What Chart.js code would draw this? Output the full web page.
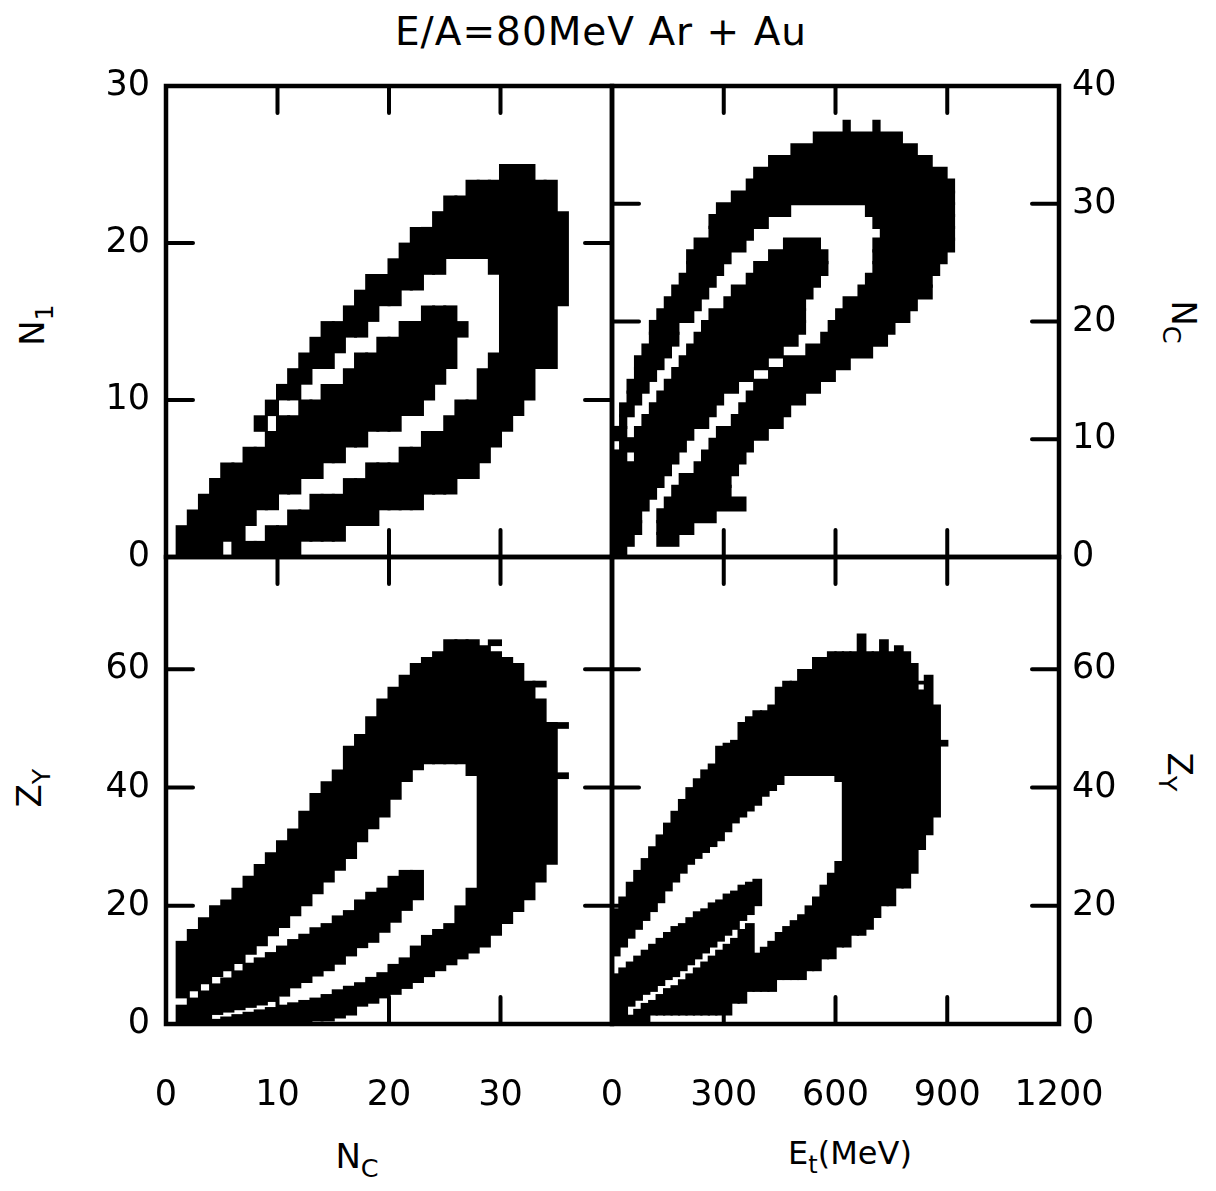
<!DOCTYPE html>
<html>
<head>
<meta charset="utf-8">
<script src="https://cdn.jsdelivr.net/npm/chart.js@4.4.1/dist/chart.umd.min.js"></script>
<style>
  body { margin: 0; background: #fff; width: 1216px; height: 1191px; position: relative; overflow: hidden; font-family: 'DejaVu Sans', sans-serif; }
  canvas { position: absolute; }
  .lbl { position: absolute; color: #000; white-space: nowrap; line-height: 1; transform: translate(-50%, -50%); }
  .lbl sub { font-size: 0.75em; vertical-align: -0.35em; }
  .rotl { transform: translate(-50%, -50%) rotate(-90deg); }
  .rotr { transform: translate(-50%, -50%) rotate(90deg); }
</style>
</head>
<body>
<div class="lbl" style="left:601px;top:31px;font-size:39px;letter-spacing:1px">E/A=80MeV Ar + Au</div>
<div class="lbl rotl" style="left:36px;top:325px;font-size:34px">N<sub>1</sub></div>
<div class="lbl rotl" style="left:33px;top:788px;font-size:34px">Z<sub>Y</sub></div>
<div class="lbl rotr" style="left:1180px;top:322px;font-size:34px">N<sub>C</sub></div>
<div class="lbl rotr" style="left:1176px;top:772px;font-size:34px">Z<sub>Y</sub></div>
<div class="lbl" style="left:357px;top:1160px;font-size:34px">N<sub>C</sub></div>
<div class="lbl" style="left:850px;top:1157px;font-size:32px">E<sub>t</sub>(MeV)</div>

<canvas id="tl" width="566" height="551" style="left:56px;top:46px"></canvas>
<canvas id="tr" width="537" height="551" style="left:602px;top:46px"></canvas>
<canvas id="bl" width="566" height="607" style="left:56px;top:517px"></canvas>
<canvas id="br" width="547" height="607" style="left:592px;top:517px"></canvas>

<script>
// Filled cells. Each entry is one bin; the list holds
// [lo, hi] pairs of the black runs inside that bin.

// top left: N1 runs per Nc column (bin width 1)
const tlNc = [1, 2, 3, 4, 5, 6, 7, 8, 9, 10, 11, 12, 13, 14, 15, 16, 17, 18,
  19, 20, 21, 22, 23, 24, 25, 26, 27, 28, 29, 30, 31, 32, 33, 34, 35];
const tlRuns = [
  [0, 2], [0, 3], [0, 4], [0, 5], [1, 6], [0, 6],
  [0, 1, 2, 7], [0, 1, 3, 7, 8, 9], [0, 2, 3, 8, 9, 10], [0, 2, 4, 9, 10, 11],
  [0, 3, 4, 9, 10, 12], [1, 3, 5, 10, 11, 13], [1, 4, 5, 10, 12, 14], [1, 4, 6, 11, 12, 15],
  [1, 4, 6, 11, 13, 15], [2, 5, 7, 12, 14, 16], [2, 5, 7, 13, 14, 17], [2, 6, 8, 13, 15, 18],
  [3, 6, 8, 14, 16, 18], [3, 6, 8, 14, 16, 19], [3, 7, 9, 15, 17, 20], [3, 7, 9, 15, 17, 21],
  [4, 8, 10, 16, 18, 21], [4, 8, 11, 16, 18, 22], [4, 9, 12, 16, 19, 23], [5, 10, 14, 15, 19, 23],
  [5, 10, 19, 24], [6, 12, 19, 24], [7, 13, 18, 24], [8, 25], [9, 25], [10, 25],
  [12, 24], [12, 24], [16, 22]
];

// top right: E_t runs (MeV) per Nc row (bin height 1)
const trNc = [0, 1, 2, 3, 4, 5, 6, 7, 8, 9, 10, 11, 12, 13, 14, 15, 16, 17, 18,
  19, 20, 21, 22, 23, 24, 25, 26, 27, 28, 29, 30, 31, 32, 33, 34, 35, 36];
const trRuns = [
  [0, 40], [0, 60, 120, 180], [0, 80, 120, 220], [0, 80, 120, 280], [0, 100, 140, 360],
  [0, 120, 160, 320], [0, 140, 180, 320], [0, 160, 220, 340], [0, 40, 60, 180, 240, 360],
  [20, 200, 260, 380], [0, 40, 60, 220, 280, 420], [20, 40, 80, 260, 320, 460],
  [20, 60, 100, 280, 340, 480], [40, 80, 120, 300, 360, 520], [40, 100, 140, 340, 380, 560],
  [60, 120, 160, 380, 420, 600], [60, 140, 180, 420, 460, 640], [80, 160, 200, 460, 520, 700],
  [100, 180, 220, 500, 560, 740], [100, 180, 240, 520, 580, 760], [120, 220, 260, 520, 600, 800],
  [140, 240, 300, 520, 620, 820], [160, 260, 320, 540, 660, 860], [180, 280, 360, 560, 680, 860],
  [200, 300, 380, 580, 700, 880], [200, 320, 420, 580, 700, 900], [220, 360, 460, 560, 700, 920],
  [260, 380, 720, 920], [260, 420, 700, 920], [280, 480, 680, 920], [320, 920], [360, 920],
  [380, 900], [420, 860], [480, 820], [540, 780], [620, 640, 700, 720]
];

// bottom left: Z_Y runs per Nc column (bin width 1)
const blNc = [1, 2, 3, 4, 5, 6, 7, 8, 9, 10, 11, 12, 13, 14, 15, 16, 17, 18,
  19, 20, 21, 22, 23, 24, 25, 26, 27, 28, 29, 30, 31, 32, 33, 34, 35];
const blRuns = [
  [0, 3.2, 4.4, 14], [0, 4.4, 5.6, 16], [0, 5.6, 6.8, 18], [0, 0.8, 1.6, 6.8, 8, 20],
  [0, 1.2, 2, 7.8, 9, 21], [0, 1.6, 2.4, 9, 10.2, 23], [0, 2, 2.8, 10.3, 11.8, 25],
  [0, 2.4, 3.2, 11.2, 13.2, 27], [0, 2.8, 3.8, 12.1, 14.9, 29], [0, 3.2, 4.7, 13.2, 16.3, 31],
  [0, 3.6, 6.1, 14.3, 18.3, 33], [0, 4, 7, 15.2, 20, 36], [0.5, 4.4, 8.1, 16.3, 22, 39],
  [0.5, 5, 9, 17, 24, 41], [1, 5.8, 10.1, 18.3, 26, 43], [1.5, 6.4, 11.5, 19.2, 28, 47],
  [3, 7, 12.9, 21, 30.8, 49], [3.5, 7.9, 13.8, 22.3, 33, 52], [4.4, 8.7, 15.5, 23, 35, 55],
  [5, 10.1, 17.2, 25, 38, 57], [6, 11.2, 19.2, 26, 41, 59], [7, 13.2, 21, 26, 43, 61],
  [8, 15, 44, 62], [9, 16, 44, 63], [10, 17, 44, 65], [11, 20, 44, 65], [12, 23, 42, 65],
  [13, 64], [15, 63, 64, 65], [17, 62], [19, 61], [21, 58], [24, 55, 57, 58], [27, 51],
  [41.5, 42.5, 50, 51]
];

// bottom right: Z_Y runs per E_t column (bin width 20 MeV)
const brEt = [0, 20, 40, 60, 80, 100, 120, 140, 160, 180, 200, 220, 240, 260, 280,
  300, 320, 340, 360, 380, 400, 420, 440, 460, 480, 500, 520, 540, 560, 580, 600,
  620, 640, 660, 680, 700, 720, 740, 760, 780, 800, 820, 840, 860, 880];
const brRuns = [
  [0, 8.5, 11.5, 19.5], [0, 9.5, 13, 21.5], [0, 1.5, 3, 10.5, 14.5, 24], [0, 2.5, 4, 11.5, 16, 26],
  [0, 3.5, 5, 12.5, 17.5, 28], [1.5, 4, 5.5, 13.5, 19, 30], [1.5, 5, 6.5, 14.5, 20.5, 32],
  [1.5, 6, 7.5, 15.5, 22.5, 34], [1.5, 6.5, 8, 16.5, 24, 36], [1.5, 7.5, 9, 17, 25.5, 38],
  [1.5, 8.5, 10, 18, 27, 40], [1.5, 9.5, 11, 19, 28, 41.5], [1.5, 10.5, 12, 19.5, 29, 43],
  [1.5, 11.5, 13, 20.5, 30, 44], [1.5, 12.5, 14, 21, 31, 47], [1.5, 13.5, 15, 22, 32.5, 47.5],
  [3.5, 14.5, 16, 22.5, 34, 48], [3.5, 16, 17.5, 23.5, 35, 51], [5.5, 17, 18.5, 24, 36, 52],
  [5.5, 12, 20, 24.5, 37, 53], [5.5, 13, 38.5, 53], [5.5, 14, 39.5, 54], [7.5, 15.5, 40.5, 57],
  [7.5, 16.5, 42, 58], [7.5, 17.5, 42, 58], [7.5, 18.5, 42, 60], [9, 20, 42, 60], [9, 21.5, 42, 62],
  [11, 23.5, 42, 62], [11, 25.5, 42, 63], [13, 27.5, 41, 63], [13, 63], [15, 63], [15, 66],
  [16, 63], [18, 63], [20, 65], [20, 63], [23, 64], [23, 63], [25.5, 61],
  [29.5, 56.5, 57.5, 58], [32, 59], [35, 54], [47, 48]
];

// ticks (inner marks) and tick labels
const tlXTicks = [10, 20, 30], tlYTicks = [10, 20];
const trXTicks = [300, 600, 900], trYTicks = [10, 20, 30];
const blXTicks = [10, 20, 30], blYTicks = [20, 40, 60];
const brXTicks = [300, 600, 900], brYTicks = [20, 40, 60];
const tlYLabels = [0, 10, 20, 30];
const trYLabels = [0, 10, 20, 30, 40];
const blYLabels = [0, 20, 40, 60];
const brYLabels = [0, 20, 40, 60];
const blXLabels = [0, 10, 20, 30];
const brXLabels = [0, 300, 600, 900, 1200];

const FONT = 'DejaVu Sans';

// frame round the plot area plus the short inward tick marks
const framePlugin = {
  id: 'frame',
  afterDraw(chart, args, opts) {
    const { ctx, chartArea: a } = chart;
    const xs = chart.scales.x, ys = chart.scales.y;
    ctx.save();
    ctx.strokeStyle = '#000';
    ctx.lineWidth = 4;
    ctx.lineCap = 'round';
    ctx.beginPath();
    opts.xTicks.forEach(v => {
      const px = xs.getPixelForValue(v);
      ctx.moveTo(px, a.top); ctx.lineTo(px, a.top + opts.len);
      ctx.moveTo(px, a.bottom); ctx.lineTo(px, a.bottom - opts.len);
    });
    opts.yTicks.forEach(v => {
      const py = ys.getPixelForValue(v);
      ctx.moveTo(a.left, py); ctx.lineTo(a.left + opts.len, py);
      ctx.moveTo(a.right, py); ctx.lineTo(a.right - opts.len, py);
    });
    ctx.stroke();
    ctx.lineWidth = 4.5;
    ctx.strokeRect(a.left, a.top, a.right - a.left, a.bottom - a.top);
    ctx.restore();
  }
};

function labelCb(list) {
  return v => (list && list.includes(v) ? String(v) : '');
}

function makePanel(id, p) {
  const sets = [];
  const n = Math.max(...p.runs.map(r => r.length / 2));
  for (let j = 0; j < n; j++) {
    const data = [];
    p.bins.forEach((b, i) => {
      const r = p.runs[i];
      if (r.length <= 2 * j) return;
      const pos = b + p.binW / 2;
      const span = [r[2 * j], r[2 * j + 1]];
      data.push(p.horizontal ? { x: span, y: pos } : { x: pos, y: span });
    });
    sets.push({
      data, xAxisID: 'x', yAxisID: 'y',
      backgroundColor: '#000', borderWidth: 0, inflateAmount: 0.4,
      grouped: false, barPercentage: 1.2, categoryPercentage: 1
    });
  }

  const tickFont = { family: FONT, size: 35 };
  // x labels sit well below the frame: the gap comes from the line height
  const xFont = { family: FONT, size: 35, lineHeight: 3.9 };
  const blank = { grid: { display: false, drawTicks: false }, border: { display: false }, ticks: { display: false } };
  const other = p.ySide === 'left' ? 'right' : 'left';

  new Chart(document.getElementById(id), {
    type: 'bar',
    data: { datasets: sets },
    options: {
      indexAxis: p.horizontal ? 'y' : 'x',
      responsive: false,
      animation: false,
      layout: { padding: 0 },
      plugins: {
        legend: { display: false },
        tooltip: { enabled: false },
        frame: { xTicks: p.xTicks, yTicks: p.yTicks, len: 27 }
      },
      scales: {
        x: {
          type: 'linear', axis: 'x', position: 'bottom', min: p.xRange[0], max: p.xRange[1], offset: false,
          grid: { display: false, drawTicks: false }, border: { display: false },
          ticks: {
            display: !!p.xLabels, stepSize: p.xStep, includeBounds: false, autoSkip: false, maxRotation: 0,
            padding: 4, color: '#000', font: xFont, callback: labelCb(p.xLabels)
          },
          afterFit: s => { s.height = p.box.bottom; }
        },
        y: {
          type: 'linear', axis: 'y', position: p.ySide, min: p.yRange[0], max: p.yRange[1], offset: false,
          grid: { display: false, drawTicks: false }, border: { display: false },
          ticks: {
            stepSize: p.yStep, includeBounds: false, autoSkip: false,
            padding: p.ySide === 'left' ? 16 : 13, color: '#000', font: tickFont, callback: labelCb(p.yLabels)
          },
          afterFit: s => { s.width = p.box[p.ySide]; }
        },
        xt: Object.assign({ type: 'linear', axis: 'x', position: 'top', afterFit: s => { s.height = p.box.top; } }, blank),
        yo: Object.assign({ type: 'linear', axis: 'y', position: other, afterFit: s => { s.width = p.box[other]; } }, blank)
      }
    },
    plugins: [framePlugin]
  });
}

makePanel('tl', {
  bins: tlNc, runs: tlRuns, binW: 1, horizontal: false,
  xRange: [0, 40], yRange: [0, 30], xStep: 10, yStep: 10,
  xTicks: tlXTicks, yTicks: tlYTicks, yLabels: tlYLabels, ySide: 'left',
  box: { left: 110, right: 10, top: 40, bottom: 40 }
});
makePanel('tr', {
  bins: trNc, runs: trRuns, binW: 1, horizontal: true,
  xRange: [0, 1200], yRange: [0, 40], xStep: 300, yStep: 10,
  xTicks: trXTicks, yTicks: trYTicks, yLabels: trYLabels, ySide: 'right',
  box: { left: 10, right: 80, top: 40, bottom: 40 }
});
makePanel('bl', {
  bins: blNc, runs: blRuns, binW: 1, horizontal: false,
  xRange: [0, 40], yRange: [0, 79], xStep: 10, yStep: 20,
  xTicks: blXTicks, yTicks: blYTicks, yLabels: blYLabels, xLabels: blXLabels, ySide: 'left',
  box: { left: 110, right: 10, top: 40, bottom: 100 }
});
makePanel('br', {
  bins: brEt, runs: brRuns, binW: 20, horizontal: false,
  xRange: [0, 1200], yRange: [0, 79], xStep: 300, yStep: 20,
  xTicks: brXTicks, yTicks: brYTicks, yLabels: brYLabels, xLabels: brXLabels, ySide: 'right',
  box: { left: 20, right: 80, top: 40, bottom: 100 }
});
</script>
</body>
</html>
